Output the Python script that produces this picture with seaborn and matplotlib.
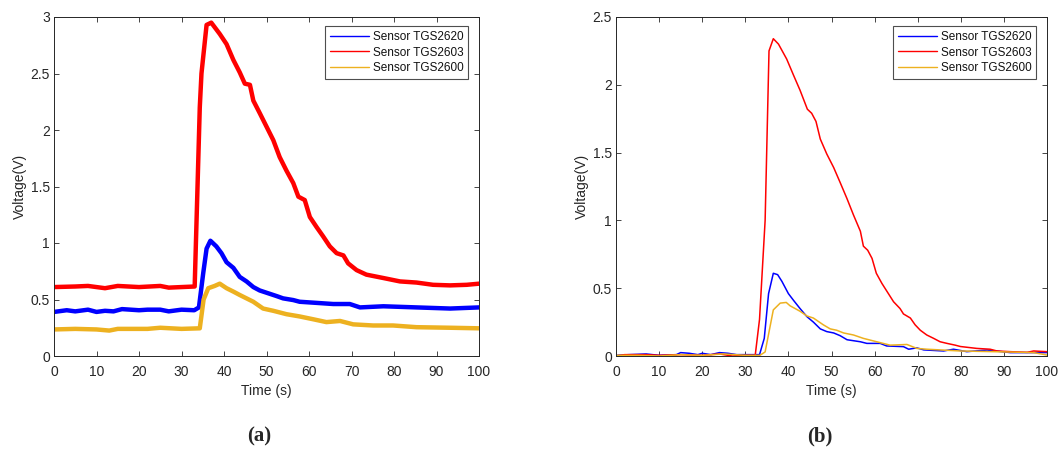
import numpy as np
import pandas as pd
import matplotlib
matplotlib.use("Agg")
import matplotlib.pyplot as plt
import seaborn as sns
from matplotlib.lines import Line2D

# ---------------- data: panel (a) ----------------
sensors = ["Sensor TGS2620", "Sensor TGS2603", "Sensor TGS2600"]
colors = ["#0000FF", "#FF0000", "#EDB120"]

a_t_2620 = [0, 3, 5, 8, 10, 12, 14, 16, 20, 22, 25, 27, 30, 33, 34.1, 35.1, 35.9, 36.8, 38.2, 39.4,
            40.6, 42.2, 43.7, 45.3, 46.9, 48.4, 50, 52.4, 53.9, 56.3, 57.8, 61.8, 65.7, 69.6, 72,
            77.5, 85.3, 93.2, 100]
a_v_2620 = [0.39, 0.405, 0.395, 0.41, 0.39, 0.40, 0.395, 0.415, 0.405, 0.41, 0.41, 0.395, 0.41, 0.405,
            0.43, 0.73, 0.95, 1.02, 0.97, 0.91, 0.83, 0.78, 0.70, 0.66, 0.61, 0.58, 0.56, 0.53,
            0.51, 0.495, 0.48, 0.47, 0.46, 0.46, 0.43, 0.44, 0.43, 0.42, 0.43]

a_t_2603 = [0, 5, 8, 12, 15, 20, 25, 27, 30, 33.1, 34.3, 34.7, 35.9, 37, 39, 40.6, 42.2, 43.7, 44.9,
            46.1, 46.9, 48.4, 50, 51.6, 53.1, 54.7, 56.3, 57.5, 59, 60.2, 61.8, 63.3, 64.9, 66.5,
            68.1, 69.2, 71.2, 73.5, 77.5, 81.4, 85.3, 89.2, 93.2, 97.1, 100]
a_v_2603 = [0.61, 0.615, 0.62, 0.60, 0.62, 0.61, 0.62, 0.605, 0.61, 0.615, 2.2, 2.5, 2.93, 2.95,
            2.85, 2.76, 2.62, 2.51, 2.41, 2.40, 2.26, 2.15, 2.03, 1.91, 1.76, 1.64, 1.53, 1.41,
            1.38, 1.23, 1.14, 1.06, 0.97, 0.91, 0.89, 0.82, 0.76, 0.72, 0.69, 0.66, 0.65, 0.63,
            0.625, 0.63, 0.64]

a_t_2600 = [0, 5, 10, 13, 15, 20, 22, 25, 30, 34.3, 35.2, 36.3, 37.8, 39, 40.6, 42.2, 43.7, 45.3,
            46.9, 49.2, 51.6, 54.7, 57.8, 61, 64.1, 67.3, 70.4, 75.1, 79.8, 85.3, 93.2, 100]
a_v_2600 = [0.235, 0.24, 0.235, 0.225, 0.24, 0.24, 0.24, 0.25, 0.24, 0.245, 0.50, 0.60, 0.62, 0.64,
            0.60, 0.57, 0.54, 0.51, 0.48, 0.42, 0.40, 0.37, 0.35, 0.325, 0.30, 0.31, 0.28, 0.27,
            0.27, 0.255, 0.25, 0.245]

# ---------------- data: panel (b) ----------------
b_t_2620 = [0, 3, 7, 10, 14, 15, 17, 19, 20, 22, 24, 26, 28, 30, 33.3, 34.4, 35.4, 36.5, 37.5, 38.5,
            40, 41.2, 42.7, 44.3, 45.8, 47.4, 48.9, 50.5, 52, 53.6, 56.7, 58.2, 61.3, 62.8, 66.7,
            67.9, 69.8, 71.4, 76, 78.3, 81.4, 86.1, 91.5, 100]
b_v_2620 = [0.005, 0.01, 0.015, 0.005, 0.01, 0.025, 0.02, 0.01, 0.02, 0.01, 0.025, 0.02, 0.01, 0.01,
            0.01, 0.13, 0.46, 0.61, 0.60, 0.55, 0.46, 0.41, 0.35, 0.29, 0.25, 0.20, 0.18, 0.17,
            0.15, 0.12, 0.105, 0.093, 0.093, 0.074, 0.069, 0.05, 0.06, 0.045, 0.037, 0.05, 0.032,
            0.044, 0.025, 0.025]

b_t_2603 = [0, 2, 7, 10, 15, 20, 24, 27, 30, 32.3, 33.3, 34.6, 35.5, 36.5, 37.7, 39.6, 41.2, 42.7,
            44.4, 45.4, 46.4, 47.4, 48.9, 50.5, 52, 53.6, 55.1, 56.7, 57.4, 58.4, 59.4, 60.4, 61.7,
            63.2, 64.4, 65.9, 66.7, 68.3, 69.4, 70.6, 72.1, 73.7, 75.2, 76.8, 78.7, 79.9, 83.7,
            86.8, 88.4, 91.5, 95.4, 96.9, 100]
b_v_2603 = [0.0, 0.01, 0.01, 0.005, 0.01, 0.005, 0.015, 0.0, 0.005, 0.005, 0.27, 1.0, 2.25, 2.34,
            2.30, 2.19, 2.07, 1.96, 1.82, 1.79, 1.73, 1.60, 1.49, 1.39, 1.28, 1.16, 1.04, 0.92,
            0.81, 0.78, 0.72, 0.61, 0.535, 0.46, 0.40, 0.35, 0.31, 0.28, 0.23, 0.19, 0.155, 0.13,
            0.105, 0.093, 0.08, 0.07, 0.056, 0.05, 0.037, 0.032, 0.027, 0.037, 0.032]

b_t_2600 = [0, 5, 10, 15, 20, 25, 30, 33.4, 34.6, 36.5, 38.1, 39.5, 40.4, 42.7, 44.3, 45.8, 48.1,
            49.7, 51.2, 52.8, 55.1, 57.4, 60.5, 63.6, 67.5, 69.8, 72.1, 79.9, 87.6, 96.9, 100]
b_v_2600 = [0.005, 0.005, 0.0, 0.01, 0.005, 0.015, 0.005, 0.005, 0.03, 0.34, 0.39, 0.395, 0.37,
            0.33, 0.295, 0.28, 0.23, 0.20, 0.19, 0.17, 0.155, 0.13, 0.105, 0.08, 0.085, 0.056,
            0.05, 0.037, 0.032, 0.025, 0.007]

x_ticks = [0, 10, 20, 30, 40, 50, 60, 70, 80, 90, 100]
a_y_ticks = [0, 0.5, 1, 1.5, 2, 2.5, 3]
a_y_labels = ["0", "0.5", "1", "1.5", "2", "2.5", "3"]
b_y_ticks = [0, 0.5, 1, 1.5, 2, 2.5]
b_y_labels = ["0", "0.5", "1", "1.5", "2", "2.5"]
x_label = "Time (s)"
y_label = "Voltage(V)"
captions = ["(a)", "(b)"]


def long_df(ts, vs):
    frames = [pd.DataFrame({"t": t, "v": v, "sensor": s}) for t, v, s in zip(ts, vs, sensors)]
    return pd.concat(frames, ignore_index=True)


df_a = long_df([a_t_2620, a_t_2603, a_t_2600], [a_v_2620, a_v_2603, a_v_2600])
df_b = long_df([b_t_2620, b_t_2603, b_t_2600], [b_v_2620, b_v_2603, b_v_2600])

sns.set_theme(style="white")
plt.rcParams["font.family"] = ["Liberation Sans", "DejaVu Sans"]
dark = "#262626"

fig = plt.figure(figsize=(10.59, 4.5), dpi=100)
ax_a = fig.add_axes([54 / 1059, (450 - 356) / 450, (479 - 54) / 1059, (356 - 17) / 450])
ax_b = fig.add_axes([616 / 1059, (450 - 356) / 450, (1047 - 616) / 1059, (356 - 17) / 450])

palette = dict(zip(sensors, colors))

sns.lineplot(data=df_a, x="t", y="v", hue="sensor", palette=palette, estimator=None,
             sort=False, linewidth=3.2, ax=ax_a, legend=False)
sns.lineplot(data=df_b, x="t", y="v", hue="sensor", palette=palette, estimator=None,
             sort=False, linewidth=1.1, ax=ax_b, legend=False)

cap_x = [259, 820]
for ax, yt, yl, ymax, cap, cx in [(ax_a, a_y_ticks, a_y_labels, 3, captions[0], cap_x[0]),
                                  (ax_b, b_y_ticks, b_y_labels, 2.5, captions[1], cap_x[1])]:
    ax.set_xlim(0, 100)
    ax.set_ylim(0, ymax)
    ax.set_xticks(x_ticks)
    ax.set_xticklabels([str(x) for x in x_ticks])
    ax.set_yticks(yt)
    ax.set_yticklabels(yl)
    ax.set_xlabel(x_label, fontsize=10, color=dark, labelpad=3.5)
    ax.set_ylabel(y_label, fontsize=10, color=dark, labelpad=2.5)
    ax.tick_params(direction="in", length=3.5, width=0.6, colors=dark, labelsize=10,
                   top=True, right=True, bottom=True, left=True)
    ax.tick_params(axis="x", pad=6.5)
    ax.tick_params(axis="y", pad=3)
    for sp in ax.spines.values():
        sp.set_visible(True)
        sp.set_color(dark)
        sp.set_linewidth(0.7)
    ax.grid(False)
    handles = [Line2D([0], [0], color=c, lw=1.0) for c in colors]
    leg = ax.legend(handles, sensors, loc="upper right", bbox_to_anchor=(0.975, 0.972),
                    fontsize=8.5, frameon=True, fancybox=False, handlelength=3.3,
                    handletextpad=0.35, borderpad=0.4, labelspacing=0.28, borderaxespad=0)
    leg.get_frame().set_edgecolor("#222222")
    leg.get_frame().set_linewidth(0.8)
    for txt in leg.get_texts():
        txt.set_color("#111111")
    fig.text(cx / 1059, 1 - 436 / 450, cap, ha="center", va="center",
             fontsize=15, fontweight="bold", family=["Liberation Serif", "DejaVu Serif"])

fig.savefig("out.png", dpi=100)
